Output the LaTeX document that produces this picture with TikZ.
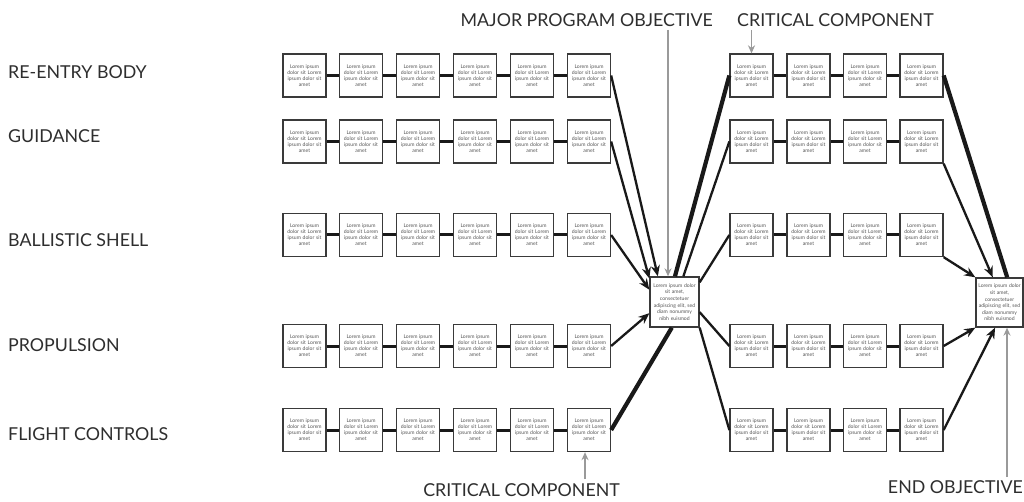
\documentclass[tikz,border=0pt]{standalone}
\usepackage{fontspec}
\setmainfont{Lato}
\usetikzlibrary{arrows.meta,calc}
\definecolor{boxc}{HTML}{3A3A3A}
\definecolor{txtc}{HTML}{555555}
\definecolor{lblc}{HTML}{2E2E2E}
\definecolor{grayc}{HTML}{9A9A9A}
\begin{document}
\begin{tikzpicture}[x=1pt,y=-1pt,
  box/.style={draw=boxc, line width=1.3pt, fill=white, minimum width=43pt, minimum height=43pt,
    inner sep=0pt, align=center, text width=40pt, text=txtc, font=\fontsize{5.1}{6}\selectfont},
  bigbox/.style={box, minimum width=49pt, minimum height=50pt, text width=47pt, font=\fontsize{5.1}{6.6}\selectfont},
  rowline/.style={line width=3pt, black!90},
  conn/.style={line width=2.3pt, black!90},
  thickconn/.style={line width=4.2pt, black!90},
  arr/.style={-{Stealth[length=11pt,width=9pt]}},
  grayarr/.style={draw=grayc, line width=1.8pt, -{Stealth[length=8pt,width=7pt]}, grayc},
  lbl/.style={text=lblc, font=\fontsize{17.8}{20}\selectfont, inner sep=0pt}
]
\useasboundingbox (0,0) rectangle (1024,502);
\fill[white] (0,0) rectangle (1024,502);

% row labels
\node[lbl, anchor=west] (t1) at (8,72) {RE-ENTRY BODY};
\node[lbl, anchor=west] (t2) at (8,136) {GUIDANCE};
\node[lbl, anchor=west] (t3) at (8,240) {BALLISTIC SHELL};
\node[lbl, anchor=west] (t4) at (8,345) {PROPULSION};
\node[lbl, anchor=west] (t5) at (8,434) {FLIGHT CONTROLS};

% boxes
\foreach \r/\y in {1/75.5,2/141.5,3/235,4/346,5/430}{
  \foreach \c/\x in {1/304.5,2/361,3/418,4/475,5/532,6/589}{
    \node[box] (L\r\c) at (\x,\y) {Lorem ipsum\\dolor sit Lorem\\ipsum dolor sit\\amet};
  }
  \foreach \c/\x in {1/751.5,2/808.5,3/865,4/921.5}{
    \node[box] (R\r\c) at (\x,\y) {Lorem ipsum\\dolor sit Lorem\\ipsum dolor sit\\amet};
  }
  \foreach \a/\b in {1/2,2/3,3/4,4/5,5/6}{
    \draw[rowline] (L\r\a) -- (L\r\b);
  }
  \foreach \a/\b in {1/2,2/3,3/4}{
    \draw[rowline] (R\r\a) -- (R\r\b);
  }
}

\node[bigbox] (hub) at (674.5,302) {Lorem ipsum dolor\\sit amet,\\consectetuer\\adipiscing elit, sed\\diam nonummy\\nibh euismod};
\node[bigbox, minimum width=47pt, minimum height=49pt, text width=45pt] (end) at (999.5,302.5) {Lorem ipsum dolor\\sit amet,\\consectetuer\\adipiscing elit, sed\\diam nonummy\\nibh euismod};

% left into hub
\draw[conn, arr] (L16.east) -- (hub.123);
\draw[conn, arr] (L26.east) -- (hub.137);
\draw[conn, arr] (L36.east) -- (hub.154);
\draw[conn, arr] (L46.east) -- (hub.204);
\draw[thickconn] (L56.east) -- (hub.264);

% hub out to right
\draw[thickconn] (hub.89) -- (R11.west);
\draw[conn] (hub.71) -- (R21.west);
\draw[conn] (hub.38) -- (R31.west);
\draw[conn] (hub.338) -- (R41.west);
\draw[conn] (hub.south east) -- (R51.west);

% right into end
\draw[thickconn] (R14.east) -- (end.73);
\draw[conn, arr] (R24.south east) -- (end.105);
\draw[conn, arr] (R34.south east) -- (end.north west);
\draw[conn, arr] (R44.east) -- (end.south west);
\draw[conn, arr] (R54.east) -- (end.260);

% annotations
\node[lbl, anchor=east] (mpo) at (713,20) {MAJOR PROGRAM OBJECTIVE};
\node[lbl, anchor=west] (cc1) at (737,20) {CRITICAL COMPONENT};
\node[lbl, anchor=east] (cc2) at (620,490) {CRITICAL COMPONENT};
\node[lbl, anchor=east] (eo) at (1023,487) {END OBJECTIVE};

\coordinate (g1) at (668,30);
\draw[grayarr] (g1) -- (g1 |- hub.north);
\coordinate (g2) at (751.5,30);
\draw[grayarr] (g2) -- (g2 |- R11.north);
\coordinate (g3) at (585,479);
\draw[grayarr] (g3) -- (g3 |- L56.south);
\coordinate (g4) at (1007,477);
\draw[grayarr] (g4) -- (g4 |- end.south);
\end{tikzpicture}
\end{document}
